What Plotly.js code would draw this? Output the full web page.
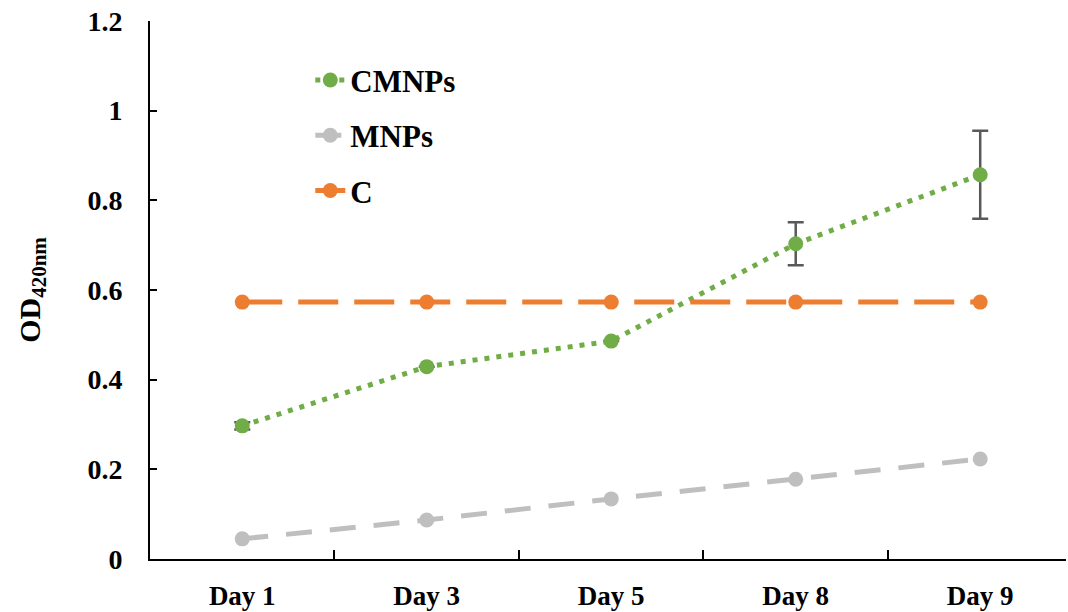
<!DOCTYPE html>
<html>
<head>
<meta charset="utf-8">
<script src="https://cdn.plot.ly/plotly-3.0.1.min.js"></script>
<style>html,body{margin:0;padding:0;background:#fff;}#chart{width:1068px;height:612px;}</style>
</head>
<body>
<div id="chart"></div>
<script>
const days = ["Day 1", "Day 3", "Day 5", "Day 8", "Day 9"];
const cmnps = [0.297, 0.429, 0.486, 0.703, 0.857];
const cmnpsErr = [0.008, 0, 0, 0.048, 0.098];
const mnps = [0.045, 0.087, 0.134, 0.178, 0.223];
const control = [0.573, 0.573, 0.573, 0.573, 0.573];
const seriesNames = ["CMNPs", "MNPs", "C"];
const yTicks = [0, 0.2, 0.4, 0.6, 0.8, 1, 1.2];
const yTickText = ["0", "0.2", "0.4", "0.6", "0.8", "1", "1.2"];

const serif = "Liberation Serif, Times New Roman, serif";

const traces = [
  {
    x: days, y: cmnps, name: seriesNames[0], legendgroup: "a",
    type: "scatter", mode: "lines+markers",
    line: {color: "#70AD47", width: 5, dash: "5px,7px"},
    marker: {color: "#70AD47", size: 15},
    error_y: {type: "data", array: cmnpsErr, visible: true, color: "#595959", thickness: 2.5, width: 8}
  },
  {
    x: days, y: mnps, name: seriesNames[1], legendgroup: "b",
    type: "scatter", mode: "lines+markers",
    line: {color: "#BFBFBF", width: 5, dash: "26px,18px"},
    marker: {color: "#BFBFBF", size: 15}
  },
  {
    x: days, y: control, name: seriesNames[2], legendgroup: "c",
    type: "scatter", mode: "lines+markers",
    line: {color: "#ED7D31", width: 5, dash: "40px,16px"},
    marker: {color: "#ED7D31", size: 15}
  }
];

const layout = {
  width: 1068, height: 612,
  margin: {l: 150, r: 2, t: 21, b: 53, pad: 0},
  paper_bgcolor: "#ffffff", plot_bgcolor: "#ffffff",
  font: {family: serif, color: "#000000", size: 26, weight: "bold"},
  showlegend: true,
  legend: {
    x: 0.175, y: 0.94, xanchor: "left", yanchor: "top",
    bgcolor: "rgba(0,0,0,0)", borderwidth: 0,
    font: {family: serif, size: 31, weight: "bold", color: "#000"},
    tracegroupgap: 12, traceorder: "grouped"
  },
  xaxis: {
    type: "category", range: [-0.5, 4.465],
    showline: true, linecolor: "#000", linewidth: 2,
    ticks: "inside", ticklen: 9, tickwidth: 2, tickcolor: "#000",
    tickson: "boundaries",
    showgrid: false, zeroline: false,
    tickfont: {family: serif, size: 27, weight: "bold", color: "#000"},
    ticklabelstandoff: 12
  },
  yaxis: {
    range: [0, 1.2], tickvals: yTicks, ticktext: yTickText,
    showline: true, linecolor: "#000", linewidth: 2,
    ticks: "inside", ticklen: 7, tickwidth: 2, tickcolor: "#000",
    showgrid: false, zeroline: false,
    tickfont: {family: serif, size: 28, weight: "bold", color: "#000"},
    ticklabelstandoff: 20,
    title: {text: "OD<sub>420nm</sub>", font: {family: serif, size: 30, weight: "bold", color: "#000"}, standoff: 38}
  }
};

Plotly.newPlot("chart", traces, layout, {displayModeBar: false, staticPlot: true});
</script>
</body>
</html>
